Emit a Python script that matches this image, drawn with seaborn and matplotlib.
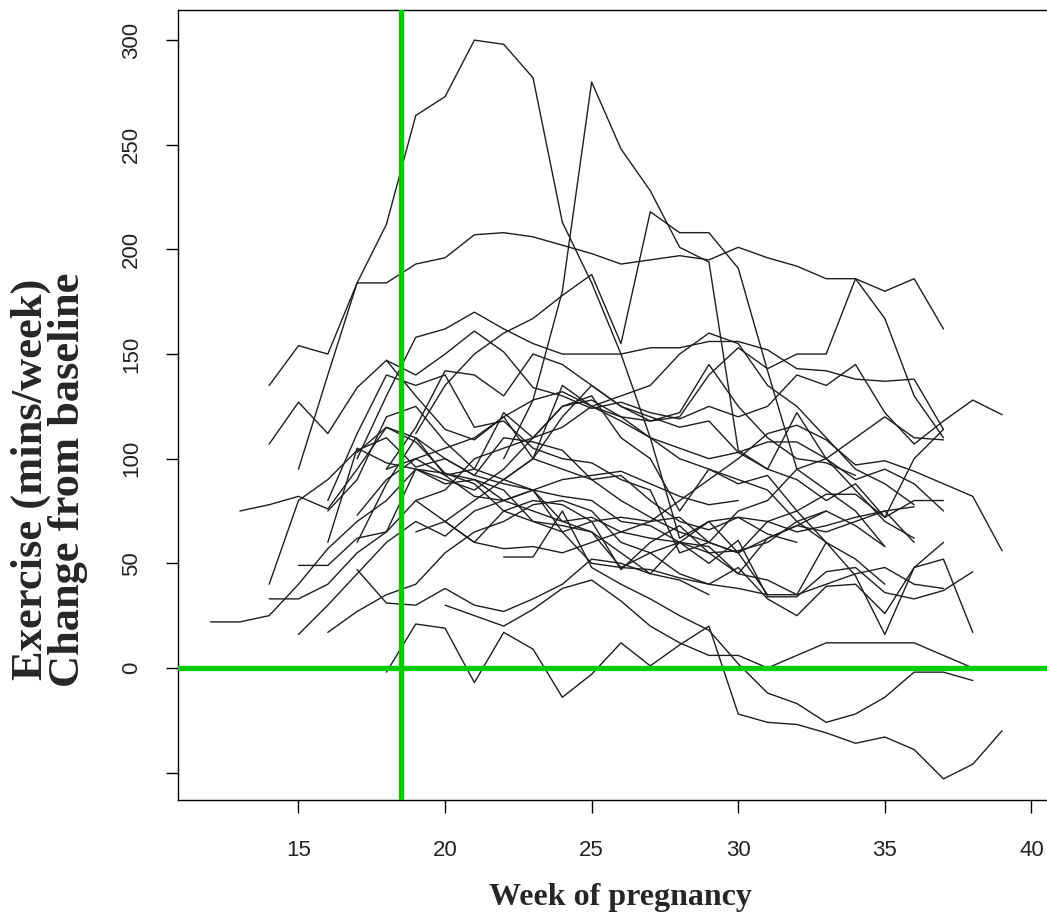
import matplotlib
matplotlib.use("Agg")
import matplotlib.pyplot as plt
import pandas as pd
import seaborn as sns

# weekly exercise change from baseline, one list per participant
subj_01 = [135, 154, 150, 184, 184, 193, 196, 207, 208, 206, 202, 198, 193, 195, 197, 195, 201, 196, 192, 186, 186, 180, 186, 162]
subj_02 = [95, 140, 184, 212, 264, 273, 300, 298, 282, 213, 184, 150, 110, 62, 70, 55, 35]
subj_03 = [100, 128, 180, 280, 248, 228, 201, 194, 104, 95, 122, 100, 90, 95, 88, 75]
subj_04 = [112, 135, 150, 160, 167, 178, 188, 155, 218, 208, 208, 191, 142, 95, 85, 75, 58]
subj_05 = [-2, 21, 19, -7, 17, 9, -14, -3, 12, 1, 11, 20, -22, -26, -27, -31, -36, -33, -39, -53, -46, -30]
subj_06 = [30, 25, 20, 28, 38, 42, 32, 20, 12, 6, 6, 0, 6, 12, 12, 12, 12, 6, 0]
subj_07 = [53, 53, 75, 48, 40, 33, 25, 18, 2, -12, -17, -26, -22, -14, -2, -2, -6]
subj_08 = [107, 127, 112, 134, 147, 130, 114, 109, 120, 100, 95, 90, 80, 72, 65, 60, 55, 70, 75, 60, 44, 16, 48, 52, 17]
subj_09 = [100, 130, 158, 162, 170, 162, 155, 150, 150, 150, 153, 153, 156, 156, 152, 143, 142, 138, 137, 138, 114]
subj_10 = [147, 140, 150, 161, 151, 134, 130, 124, 127, 122, 119, 125, 120, 125, 140, 135, 145, 122, 107, 118, 128, 121]
subj_11 = [75, 78, 82, 76, 95, 115, 110, 100, 92, 88, 85, 90, 92, 94, 88, 82, 78, 80]
subj_12 = [22, 22, 25, 40, 57, 70, 80, 95, 88, 90, 80, 75, 70, 65, 48, 55, 60, 50, 61, 34, 34, 46, 48, 36, 33, 37, 46]
subj_13 = [49, 49, 62, 65, 95, 93, 88, 75, 70, 65, 50, 48, 47, 43, 40, 48, 33, 25, 39, 40, 26, 48, 60]
subj_14 = [33, 33, 40, 55, 65, 80, 70, 60, 57, 58, 55, 60, 65, 70, 72, 60, 55, 62, 68, 75, 68, 58]
subj_15 = [16, 30, 45, 60, 70, 63, 75, 80, 85, 65, 70, 72, 70, 80, 90, 100, 112, 116, 109, 97, 99, 94, 88, 82, 56]
subj_16 = [17, 27, 35, 40, 55, 65, 70, 78, 80, 75, 60, 55, 45, 40, 38, 35, 35, 40, 45, 48, 40, 38]
subj_17 = [47, 31, 30, 38, 30, 27, 33, 40, 52, 50, 45, 42, 35]
subj_18 = [60, 105, 98, 95, 90, 85, 95, 110, 125, 130, 110, 100, 75, 95, 90, 85, 70, 75]
subj_19 = [103, 115, 108, 93, 90, 85, 70, 68, 65, 55, 45, 60, 70, 72, 70, 65, 68, 72, 75, 60]
subj_20 = [80, 112, 140, 135, 140, 115, 118, 105, 100, 98, 90, 85, 55, 60, 75, 80, 95, 100, 110, 120, 110, 109]
subj_21 = [95, 115, 142, 140, 130, 150, 145, 135, 125, 120, 115, 118, 103, 95, 90, 80, 88, 72, 80, 80]
subj_22 = [73, 90, 100, 105, 110, 120, 128, 132, 125, 120, 110, 100, 95, 88, 92, 75, 83, 83, 72, 100, 114]
subj_23 = [80, 85, 100, 105, 110, 115, 125, 130, 135, 150, 160, 155, 135, 125, 110, 95, 88, 78]
subj_24 = [70, 80, 90, 100, 135, 125, 118, 110, 105, 100, 103, 108, 108, 100, 85, 70, 62]
subj_25 = [90, 100, 120, 135, 125, 118, 120, 140, 153, 143, 150, 150, 186, 167, 130, 110]
subj_26 = [65, 70, 60, 75, 80, 78, 70, 47, 60, 68, 55, 56, 60, 70, 60, 52, 40]
subj_27 = [40, 80, 90, 104, 110, 96, 100, 92, 110, 108, 104, 90, 92, 80, 70, 66, 72, 64, 60]
subj_28 = [75, 90, 120, 125, 108, 95, 90, 85, 82, 80, 70, 68, 60, 55, 45, 62, 68, 65, 70, 75, 77]
subj_29 = [95, 100, 92, 95, 122, 110, 125, 128, 120, 118, 122, 145, 125, 110, 100, 98, 92]
subj_30 = [60, 88, 110, 92, 82, 80, 85, 70, 72, 65, 62, 60, 58, 45, 42, 35, 60]

first_week = [14, 15, 22, 19, 18, 20, 22, 14, 17, 18, 13, 12, 15, 14, 15,
              16, 17, 16, 17, 16, 18, 17, 19, 20, 22, 19, 14, 16, 18, 17]

all_subj = [subj_01, subj_02, subj_03, subj_04, subj_05, subj_06, subj_07, subj_08,
            subj_09, subj_10, subj_11, subj_12, subj_13, subj_14, subj_15, subj_16,
            subj_17, subj_18, subj_19, subj_20, subj_21, subj_22, subj_23, subj_24,
            subj_25, subj_26, subj_27, subj_28, subj_29, subj_30]

x_ticks = [15, 20, 25, 30, 35, 40]
y_ticks = [-50, 0, 50, 100, 150, 200, 250, 300]
y_tick_labels = ["", "0", "50", "100", "150", "200", "250", "300"]
start_line = 18.5

rows = []
for i, (w0, vals) in enumerate(zip(first_week, all_subj)):
    for k, v in enumerate(vals):
        rows.append({"id": i, "week": w0 + k, "change": v})
df = pd.DataFrame(rows)

sns.set_style("white")
fig = plt.figure(figsize=(10.47, 9.13), dpi=100)
ax = fig.add_axes([178 / 1047, 113 / 913, 871 / 1047, 790 / 913])

sns.lineplot(data=df, x="week", y="change", units="id", estimator=None,
             color="#1e1e1e", linewidth=1.0, ax=ax, legend=False)

ax.axvline(start_line, color="#00CD00", linewidth=3.8, zorder=5)
ax.axhline(0, color="#00CD00", linewidth=3.8, zorder=5)

ax.set_xlim(10.89, 40.6)
ax.set_ylim(-63.1, 314.4)
ax.set_xticks(x_ticks)
ax.set_yticks(y_ticks)
ax.set_yticklabels(y_tick_labels, rotation=90, va="center")
ax.tick_params(axis="both", direction="out", length=9, width=1, color="black",
               labelsize=16, bottom=True, left=True)
ax.tick_params(axis="x", pad=20)
ax.tick_params(axis="y", pad=17)
for lab in ax.get_xticklabels() + ax.get_yticklabels():
    lab.set_fontfamily("Liberation Sans")
    lab.set_color("#222222")
for sp in ax.spines.values():
    sp.set_color("black")
    sp.set_linewidth(1.0)
ax.set_xlabel("")
ax.set_ylabel("")

fig.text(0.593, 0.0175, "Week of pregnancy", ha="center", va="center",
         fontsize=23, fontweight="bold", family="Liberation Serif")
fig.text(31 / 1047, 0.475, "Exercise (mins/week)", ha="center", va="center",
         rotation=90, fontsize=32, fontweight="bold", family="Liberation Serif")
fig.text(68 / 1047, 0.475, "Change from baseline", ha="center", va="center",
         rotation=90, fontsize=32, fontweight="bold", family="Liberation Serif")

fig.savefig("out.png", dpi=100)
